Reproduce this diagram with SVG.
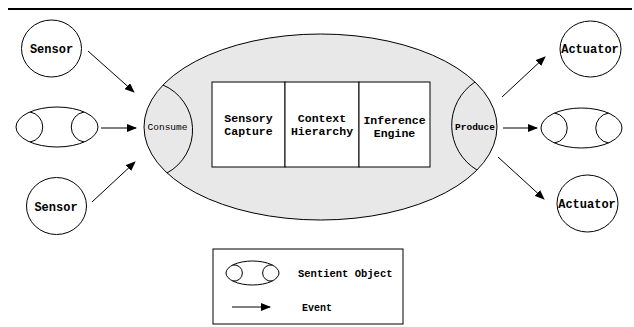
<svg xmlns="http://www.w3.org/2000/svg" width="634" height="327" viewBox="0 0 634 327">
<style>
.o{fill:#fff;stroke:#000;stroke-width:1}
.g{fill:#e8e8e8;stroke:#000;stroke-width:1}
.a{fill:none;stroke:#000;stroke-width:1}
.t{font-family:"Liberation Mono","Courier New",monospace;font-weight:bold;font-size:12px;text-anchor:middle;fill:#000}
.b{font-family:"Liberation Mono","Courier New",monospace;font-weight:bold;font-size:11.5px;text-anchor:middle;fill:#000}
.s{font-family:"Liberation Mono","Courier New",monospace;font-size:9.5px;text-anchor:middle;fill:#000}
.c{stroke:#000;stroke-width:1;fill:none;marker-end:url(#ah)}
</style>
<defs>
<marker id="ah" markerWidth="10" markerHeight="8" refX="9" refY="4" orient="auto" markerUnits="userSpaceOnUse">
<path d="M0,0 L10,4 L0,8 z" fill="#000"/>
</marker>
</defs>
<rect width="634" height="327" fill="#fff"/>
<line x1="8" y1="9" x2="632" y2="9" stroke="#000" stroke-width="2"/>

<g id="sensor1">
<ellipse class="o" cx="51.5" cy="48.5" rx="30" ry="28.5"/>
<text class="t" x="51.5" y="52.5">Sensor</text>
</g>
<g id="sentient-left">
<ellipse class="o" cx="57" cy="127" rx="41" ry="20"/>
<path class="a" d="M30,112 A15.2,15.2 0 0 1 30,142 M84,112 A15.2,15.2 0 0 0 84,142"/>
</g>
<g id="sensor2">
<ellipse class="o" cx="56.5" cy="206" rx="30" ry="28.5"/>
<text class="t" x="56" y="211">Sensor</text>
</g>

<g id="sentient-core">
<ellipse class="g" cx="320.5" cy="127" rx="176.5" ry="93"/>
<path class="a" d="M163,85 A49,49 0 0 1 167,173"/>
<path class="a" d="M475,82 A52,52 0 0 0 477,170"/>
<text class="s" x="167.5" y="130">Consume</text>
<text class="s" x="475" y="130" style="font-weight:bold">Produce</text>
</g>
<g id="sensory-capture">
<rect class="o" x="212" y="82" width="73" height="85"/>
<text class="b" x="248.5" y="122">Sensory</text>
<text class="b" x="248.5" y="134.5">Capture</text>
</g>
<g id="context-hierarchy">
<rect class="o" x="285" y="82" width="74" height="85"/>
<text class="b" x="322" y="122">Context</text>
<text class="b" x="322" y="134.5">Hierarchy</text>
</g>
<g id="inference-engine">
<rect class="o" x="359" y="82" width="71" height="85"/>
<text class="b" x="394.5" y="124">Inference</text>
<text class="b" x="394.5" y="137">Engine</text>
</g>

<g id="actuator1">
<ellipse class="o" cx="590.5" cy="49" rx="30.5" ry="28"/>
<text class="t" x="590" y="52.5">Actuator</text>
</g>
<g id="sentient-right">
<ellipse class="o" cx="581.5" cy="128" rx="40.5" ry="20"/>
<path class="a" d="M554.5,113 A15.2,15.2 0 0 1 554.5,143 M608.5,113 A15.2,15.2 0 0 0 608.5,143"/>
</g>
<g id="actuator2">
<ellipse class="o" cx="587.5" cy="203.5" rx="30.5" ry="28.5"/>
<text class="t" x="587" y="208">Actuator</text>
</g>

<g id="legend">
<rect class="o" x="213" y="249" width="190" height="75"/>
<ellipse class="o" cx="252.5" cy="273" rx="26.5" ry="12"/>
<path class="a" d="M232.5,265.1 A8.1,8.1 0 1 1 232.5,280.9 M272.5,265.1 A8.1,8.1 0 1 0 272.5,280.9"/>
<text class="t" x="298" y="276.5" style="text-anchor:start;font-size:10.5px">Sentient Object</text>
<line class="c" x1="232" y1="307" x2="270" y2="307"/>
<text class="t" x="302" y="310.5" style="text-anchor:start;font-size:10px">Event</text>
</g>

<g id="connectors">
<line class="c" x1="88" y1="51" x2="134" y2="92"/>
<line class="c" x1="101" y1="128" x2="136" y2="128"/>
<line class="c" x1="92" y1="202" x2="135" y2="162"/>
<line class="c" x1="502" y1="97" x2="545" y2="57"/>
<line class="c" x1="503" y1="128" x2="537" y2="128"/>
<line class="c" x1="498" y1="157" x2="544" y2="199"/>
</g>
</svg>
